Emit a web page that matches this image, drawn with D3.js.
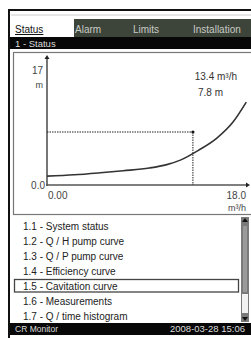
<!DOCTYPE html>
<html>
<head>
<style>
  body { margin: 0; background: #fff; }
  svg text { font-family: "Liberation Sans", Arial, sans-serif; }
</style>
</head>
<body>
<script src="https://d3js.org/d3.v7.min.js"></script>
<script>
// chart values
var flowQ = [0, 2.5, 4.9, 7.0, 9.4, 11.0, 12.3, 13.9, 15.6, 17.1, 18.3];
var headH = [1.3, 1.5, 1.8, 2.1, 2.5, 3.0, 3.7, 5.1, 6.9, 9.3, 12.2];
var dutyQ = 13.4, dutyH = 7.8;
var xDomain = [0, 18], yDomain = [0, 17];
var xTickLabels = ["0.00", "18.0"];
var yTickLabels = ["0.0", "17"];
var tabs = ["Status", "Alarm", "Limits", "Installation"];
var menuItems = ["1.1 - System status", "1.2 - Q / H pump curve", "1.3 - Q / P pump curve",
                 "1.4 - Efficiency curve", "1.5 - Cavitation curve", "1.6 - Measurements",
                 "1.7 - Q / time histogram"];
var selectedItem = 4;

var W = 251, H = 338;
var svg = d3.select("body").append("svg").attr("width", W).attr("height", H);

// outer frame
svg.append("rect").attr("x", 9).attr("y", 10).attr("width", 250).attr("height", 340)
  .attr("fill", "#fff").attr("stroke", "#111").attr("stroke-width", 2);
svg.append("line").attr("x1", 11).attr("x2", 251).attr("y1", 15).attr("y2", 15)
  .attr("stroke", "#ccc").attr("stroke-width", 1);

// tabs
svg.append("rect").attr("x", 74).attr("y", 19).attr("width", 177).attr("height", 18).attr("fill", "#3d4439");
var tabX = [15, 75, 133, 193];
tabs.forEach(function (t, i) {
  svg.append("text").attr("x", tabX[i]).attr("y", 33).text(t)
    .attr("font-size", "10px").attr("fill", i === 0 ? "#111" : "#c8cbc6")
    .attr("text-decoration", i === 0 ? "underline" : null);
});

// title bar
svg.append("rect").attr("x", 10).attr("y", 37).attr("width", 241).attr("height", 12).attr("fill", "#080808");
svg.append("text").attr("x", 15).attr("y", 46.5).text("1 - Status")
  .attr("font-size", "9.5px").attr("fill", "#ddd");

// chart panel
svg.append("rect").attr("x", 13.5).attr("y", 52.5).attr("width", 240).attr("height", 162)
  .attr("fill", "none").attr("stroke", "#777").attr("stroke-width", 1.2);

var x = d3.scaleLinear().domain(xDomain).range([47, 243]);
var y = d3.scaleLinear().domain(yDomain).range([185, 69.5]);

// axes
var axisColor = "#555";
svg.append("line").attr("x1", x(0)).attr("x2", x(0)).attr("y1", y(0) + 1).attr("y2", 58)
  .attr("stroke", axisColor).attr("stroke-width", 1.6);
svg.append("line").attr("x1", x(0) - 1).attr("x2", 248).attr("y1", y(0)).attr("y2", y(0))
  .attr("stroke", axisColor).attr("stroke-width", 1.6);
svg.append("path").attr("d", "M" + x(0) + ",55 l-2.5,4 l5,0 z").attr("fill", "#222");
svg.append("path").attr("d", "M250," + y(0) + " l-4,-2.5 l0,5 z").attr("fill", "#222");

// tick labels
svg.append("text").attr("x", x(0) - 2).attr("y", y(0) + 3.5).text(yTickLabels[0])
  .attr("text-anchor", "end").attr("font-size", "10px").attr("fill", "#444");
svg.append("text").attr("x", x(0) - 4).attr("y", y(17) + 4).text(yTickLabels[1])
  .attr("text-anchor", "end").attr("font-size", "10px").attr("fill", "#444");
svg.append("text").attr("x", x(0) - 4).attr("y", 88).text("m")
  .attr("text-anchor", "end").attr("font-size", "9px").attr("fill", "#444");
svg.append("text").attr("x", x(0) + 1).attr("y", 199).text(xTickLabels[0])
  .attr("font-size", "10px").attr("fill", "#444");
svg.append("text").attr("x", 246).attr("y", 199).text(xTickLabels[1])
  .attr("text-anchor", "end").attr("font-size", "10px").attr("fill", "#444");
svg.append("text").attr("x", 246).attr("y", 211).attr("text-anchor", "end")
  .attr("font-size", "9px").attr("fill", "#444").text("m³/h");

// duty point guides
svg.append("line").attr("x1", x(0)).attr("x2", x(dutyQ)).attr("y1", y(dutyH)).attr("y2", y(dutyH))
  .attr("stroke", "#222").attr("stroke-width", 1).attr("stroke-dasharray", "1.5,1");
svg.append("line").attr("x1", x(dutyQ)).attr("x2", x(dutyQ)).attr("y1", y(dutyH)).attr("y2", y(0))
  .attr("stroke", "#222").attr("stroke-width", 1).attr("stroke-dasharray", "1.5,1");
svg.append("circle").attr("cx", x(dutyQ)).attr("cy", y(dutyH)).attr("r", 1.6).attr("fill", "#111");

// curve
var pts = flowQ.map(function (q, i) { return [q, headH[i]]; });
svg.append("path").datum(pts)
  .attr("d", d3.line().x(function (d) { return x(d[0]); }).y(function (d) { return y(d[1]); })
    .curve(d3.curveMonotoneX))
  .attr("fill", "none").attr("stroke", "#333").attr("stroke-width", 1.6);

// duty annotation
svg.append("text").attr("x", 237).attr("y", 80).attr("text-anchor", "end")
  .attr("font-size", "10px").attr("fill", "#333").text(dutyQ + " m³/h");
svg.append("text").attr("x", 223).attr("y", 96).attr("text-anchor", "end")
  .attr("font-size", "10px").attr("fill", "#333").text(dutyH + " m");

// menu list
var rowY = d3.scaleLinear().domain([0, 6]).range([226, 316]);
menuItems.forEach(function (m, i) {
  svg.append("text").attr("x", 23).attr("y", rowY(i) + 3.5).text(m)
    .attr("font-size", "10px").attr("fill", "#222");
});
svg.append("rect").attr("x", 14.5).attr("y", rowY(selectedItem) - 6.5)
  .attr("width", 224).attr("height", 12.5)
  .attr("fill", "none").attr("stroke", "#444").attr("stroke-width", 1.3);

// scrollbar
svg.append("rect").attr("x", 241).attr("y", 217).attr("width", 8).attr("height", 105).attr("fill", "#7a7a7a");
svg.append("rect").attr("x", 243).attr("y", 226).attr("width", 4).attr("height", 66).attr("fill", "#9a9a9a");
svg.append("rect").attr("x", 242).attr("y", 294).attr("width", 6).attr("height", 19).attr("fill", "#f2f2f2");
svg.append("path").attr("d", "M245,218 l-3,4 l6,0 z").attr("fill", "#111");
svg.append("path").attr("d", "M245,321 l-3,-4 l6,0 z").attr("fill", "#111");

// status bar
svg.append("rect").attr("x", 10).attr("y", 323).attr("width", 241).attr("height", 12).attr("fill", "#080808");
svg.append("text").attr("x", 15).attr("y", 332).text("CR Monitor")
  .attr("font-size", "8.5px").attr("fill", "#ddd");
svg.append("text").attr("x", 170).attr("y", 332).text("2008-03-28  15:06")
  .attr("font-size", "9.5px").attr("fill", "#ddd");
</script>
</body>
</html>
